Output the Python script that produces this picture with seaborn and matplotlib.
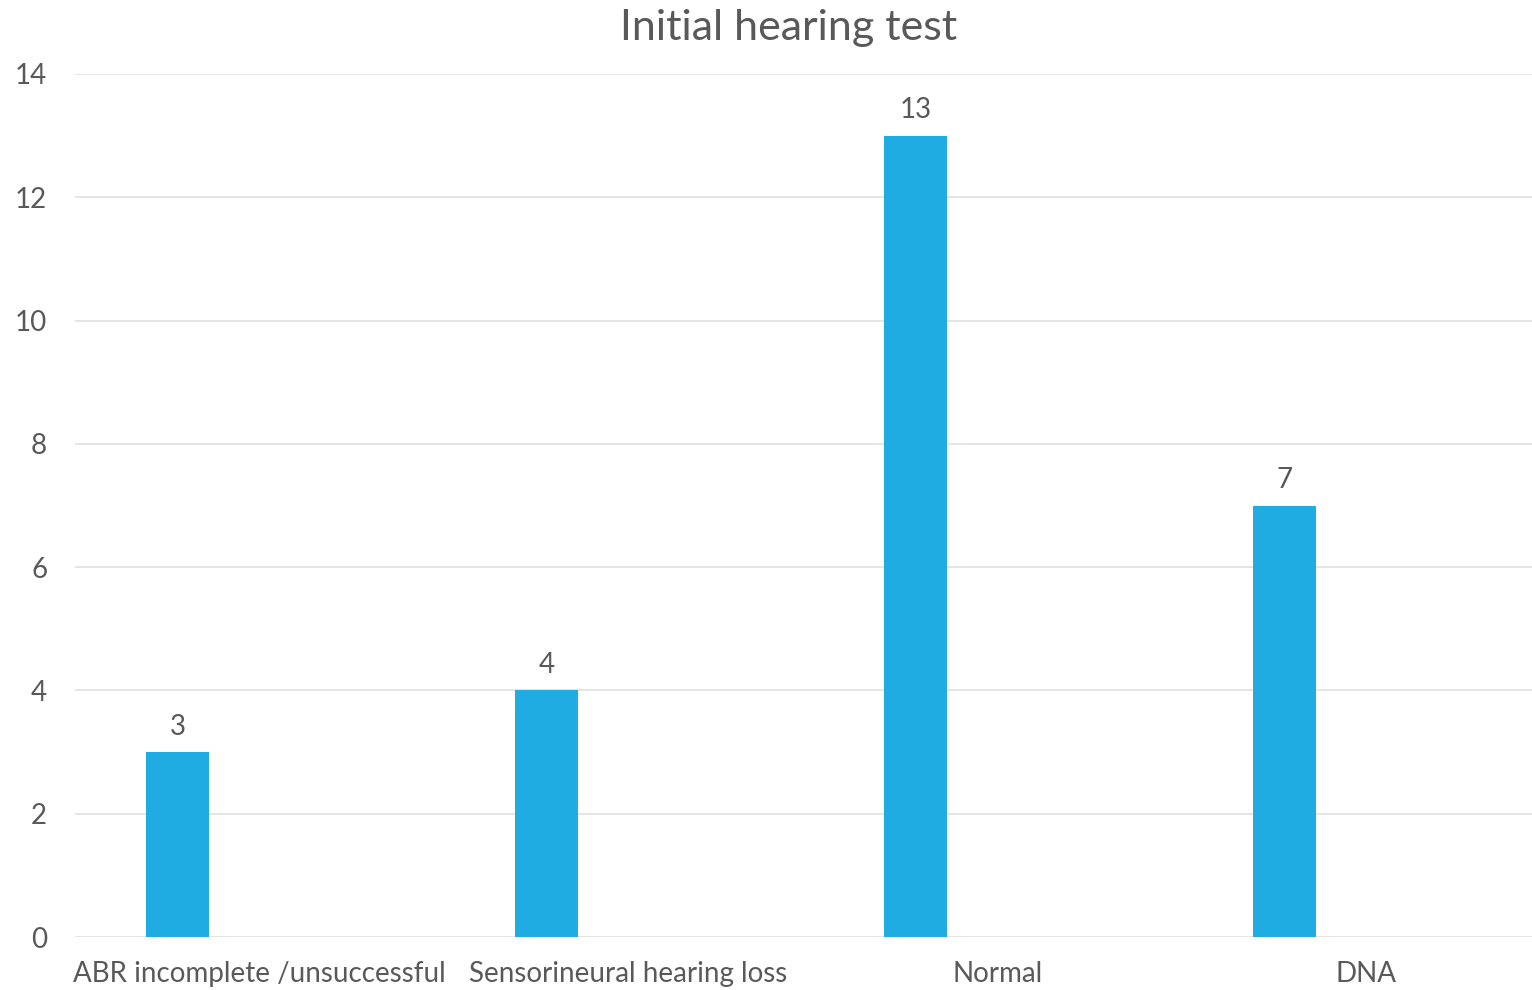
import pandas as pd
import matplotlib
matplotlib.use("Agg")
import matplotlib.pyplot as plt
import seaborn as sns

# --- Datos ---
categories = ["ABR incomplete /unsuccessful", "Sensorineural hearing loss", "Normal", "DNA"]
counts = [3, 4, 13, 7]
series_names = ["Count", "Blank"]  # la segunda serie está vacía (solo reserva el hueco)

df = pd.DataFrame({"category": categories, "count": counts, "series": series_names[0]})

# --- Estilo ---
sns.set_style("white")
plt.rcParams["font.family"] = ["Lato", "DejaVu Sans"]
text_color = "#595959"
bar_color = "#1EACE2"

fig = plt.figure(figsize=(15.32, 9.9), dpi=100)
ax = fig.add_axes([75 / 1532, 1 - 937 / 990, 1476 / 1532, (937 - 74) / 990])

sns.barplot(data=df, x="category", y="count", hue="series", hue_order=series_names,
            order=categories, palette=[bar_color, bar_color], width=0.889, gap=0.61,
            dodge=True, saturation=1, legend=False, ax=ax, errorbar=None,
            edgecolor="none")

ax.set_ylim(0, 14)
ax.set_yticks(range(0, 15, 2))
ax.grid(axis="y", color="#E3E3E3", linewidth=1.3)
ax.set_axisbelow(True)
for s in ax.spines.values():
    s.set_visible(False)
ax.tick_params(axis="both", length=0, labelsize=20, colors=text_color)
ax.tick_params(axis="y", pad=20)
ax.tick_params(axis="x", pad=17)
ax.set_xlabel("")
ax.set_ylabel("")

ax.bar_label(ax.containers[0], fontsize=20, color=text_color, padding=9)

fig.suptitle("Initial hearing test", fontsize=31, color=text_color, x=789 / 1532, y=0.972, va="center")

fig.savefig("out.png", dpi=100)
plt.close(fig)
